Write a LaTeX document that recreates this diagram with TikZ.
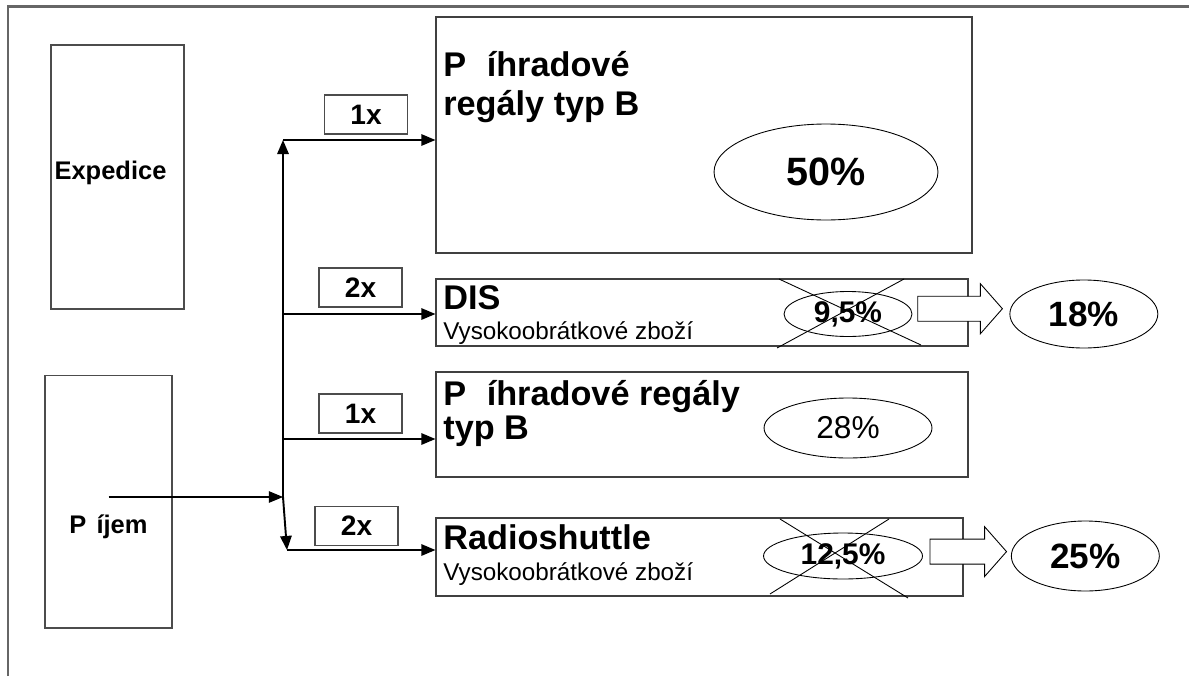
\documentclass[tikz,border=0pt]{standalone}
\usepackage{fontspec}
\setmainfont{Liberation Sans}
\usetikzlibrary{shapes,arrows.meta,positioning,calc}

% hollow block arrow from #1 to the tip #2
\newcommand{\fatarrow}[2]{%
  \path[fat] let \p1=#1, \p2=#2 in
    (\x1,\y2+7.1pt) -- (\x2-12.5pt,\y2+7.1pt) -- (\x2-12.5pt,\y2+14.2pt) -- (\x2,\y2)
    -- (\x2-12.5pt,\y2-14.2pt) -- (\x2-12.5pt,\y2-7.1pt) -- (\x1,\y2-7.1pt) -- cycle;}

\begin{document}
\begin{tikzpicture}[x=0.02cm, y=-0.02cm]
    % Define block styles
    \tikzstyle{store} = [rectangle, draw=black!70, line width=0.6pt, font=\bfseries\fontsize{14.5}{17}\selectfont]
    \tikzstyle{zone} = [rectangle, draw=black!75, line width=0.7pt]
    \tikzstyle{zonetitle} = [inner sep=0pt, font=\bfseries\fontsize{19.5}{23}\selectfont]
    \tikzstyle{zonenote} = [inner sep=0pt, font=\fontsize{13.8}{16}\selectfont]
    \tikzstyle{tally} = [rectangle, draw=black!70, line width=0.7pt, minimum width=1.66cm, minimum height=0.78cm, font=\bfseries\fontsize{16}{19}\selectfont]
    \tikzstyle{portion} = [ellipse, draw, line width=0.5pt, inner sep=0pt]
    \tikzstyle{strikeout} = [draw, line width=0.5pt]
    \tikzstyle{fat} = [draw, fill=white, line width=0.5pt]
    \tikzstyle{line} = [draw, line width=1.1pt, -{Triangle[length=8pt,width=6.5pt]}]
    \tikzstyle{feed} = [line, line width=0.6pt]

    \useasboundingbox (0,0) rectangle (1189,676);
    \draw[black!60, line width=1.3pt] (8,676) -- (8,6.5) -- (1189,6.5);

    % Stores
    \node [store, minimum width=2.66cm, minimum height=5.28cm] (expedice) at (117.5,177) {};
    \node [store, draw=none] (expedicelbl) at ($(expedice.center)+(-7,-4)$) {Expedice};
    \node [store, minimum width=2.54cm, minimum height=5.06cm] (prijem) at (108.5,501.5) {};
    \node [store, draw=none] (prijemlbl) at ($(prijem.center)+(0,25)$) {P\hspace{0.4em}íjem};

    % Storage zones
    \node [zone, minimum width=10.72cm, minimum height=4.72cm] (regalA) at (704,135) {};
    \node [zone, minimum width=10.64cm, minimum height=1.34cm] (dis) at (702,312.5) {};
    \node [zone, minimum width=10.64cm, minimum height=2.1cm] (regalB) at (702,424.5) {};
    \node [zone, minimum width=10.54cm, minimum height=1.56cm] (radio) at (699.5,557) {};

    \node [zonetitle, anchor=base west] (regalAt) at (443,76) {P\hspace{0.6em}íhradové};
    \node [zonetitle, anchor=base west] (regalAs) at (443,115) {regály typ B};
    \node [zonetitle, anchor=base west] (dist) at (443,309) {DIS};
    \node [zonenote, anchor=base west] (diss) at (443,339) {Vysokoobrátkové zboží};
    \node [zonetitle, anchor=base west] (regalBt) at (443,405) {P\hspace{0.6em}íhradové regály};
    \node [zonetitle, anchor=base west] (regalBs) at (443,439) {typ B};
    \node [zonetitle, anchor=base west] (radiot) at (443,549) {Radioshuttle};
    \node [zonenote, anchor=base west] (radios) at (443,580) {Vysokoobrátkové zboží};

    % Shares
    \node [portion, minimum width=4.48cm, minimum height=1.92cm, font=\bfseries\fontsize{22.5}{26}\selectfont] (p50) at (826,172) {50\%};
    \node [portion, minimum width=2.56cm, minimum height=0.9cm, font=\bfseries\fontsize{17}{20}\selectfont] (p95) at (848,314) {9,5\%};
    \node [portion, minimum width=3.36cm, minimum height=1.2cm, font=\fontsize{18}{21}\selectfont] (p28) at (848,428) {28\%};
    \node [portion, minimum width=3.18cm, minimum height=0.92cm, font=\bfseries\fontsize{17}{20}\selectfont] (p125) at (843,556) {12,5\%};
    \node [portion, minimum width=2.96cm, minimum height=1.36cm, font=\bfseries\fontsize{20}{23}\selectfont, right=1.94cm of p95] (p18) {18\%};
    \node [portion, minimum width=2.96cm, minimum height=1.4cm, font=\bfseries\fontsize{20}{23}\selectfont, right=1.76cm of p125] (p25) {25\%};

    % Old shares crossed out
    \path [strikeout] ($(p95)+(-69,-35)$) -- ($(p95)+(73,31)$);
    \path [strikeout] ($(p95)+(56,-35)$) -- ($(p95)+(-71,34)$);
    \path [strikeout] ($(p125)+(-63,-37)$) -- ($(p125)+(65,42)$);
    \path [strikeout] ($(p125)+(46,-37)$) -- ($(p125)+(-73,38)$);

    \fatarrow{([xshift=3pt]p95.east)}{([xshift=-4pt,yshift=3pt]p18.west)}
    \fatarrow{([xshift=4pt]p125.east)}{([xshift=-2.5pt,yshift=2.5pt]p25.west)}

    % Counts
    \node [tally] (t1) at (366,114.5) {1x};
    \node [tally] (t2) at (360.5,287.5) {2x};
    \node [tally] (t3) at (360.5,413.5) {1x};
    \node [tally] (t4) at (356.5,526) {2x};

    % Arrows
    \coordinate (hub) at (283,497);
    \coordinate (j1) at (283,140);
    \coordinate (j2) at (283,314);
    \coordinate (j3) at (283,439);
    \coordinate (j4) at (287,550);
    \path [feed] (prijem.center |- hub) -- (hub);
    \path [line] (hub) -- (j1);
    \path [line] (hub) -- (j4);
    \path [line, line width=0.9pt] (j1) -- (j1 -| regalA.west);
    \path [line, line width=0.9pt] (j2) -- (j2 -| dis.west);
    \path [line, line width=0.9pt] (j3) -- (j3 -| regalB.west);
    \path [line, line width=0.9pt] (j4) -- (j4 -| radio.west);

\end{tikzpicture}
\end{document}
